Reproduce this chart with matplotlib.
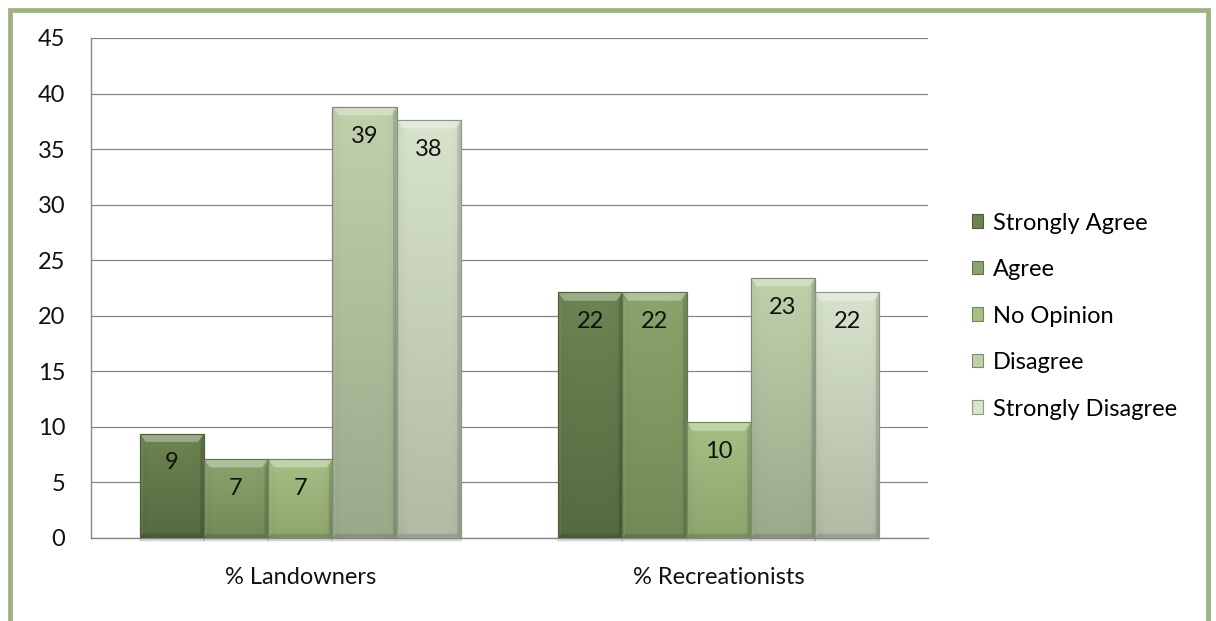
import matplotlib
matplotlib.use("Agg")
import matplotlib.pyplot as plt
import numpy as np
from matplotlib.patches import Patch, Polygon, Rectangle
from matplotlib.colors import to_rgb

plt.rcParams['font.family'] = ['Lato', 'DejaVu Sans']

groups = ["% Landowners", "% Recreationists"]
responses = ["Strongly Agree", "Agree", "No Opinion", "Disagree", "Strongly Disagree"]
landowners = [9.4, 7.1, 7.1, 38.8, 37.6]
recreationists = [22.1, 22.1, 10.4, 23.4, 22.1]
yticks = [0, 5, 10, 15, 20, 25, 30, 35, 40, 45]

# top / bottom shade of each response colour
top_cols = ["#6d8452", "#8ba46d", "#a5bf84", "#c0d0ab", "#d8e3cc"]
bot_cols = ["#566a40", "#728b56", "#8ea56e", "#9ba98b", "#b0baa5"]
edge_cols = ["#4b5c38", "#5f744a", "#718858", "#7d8a6e", "#8e9886"]

fig = plt.figure(figsize=(12.16, 6.21), dpi=100)
ax = fig.add_axes([0.0748, 0.1337, 0.6883, 0.8052])

# outer frame
fig.patches.append(Rectangle((10 / 1216, -0.05), 1198 / 1216, 1.05 - 10 / 621,
                             transform=fig.transFigure, fill=False,
                             edgecolor="#9db183", linewidth=3.4, zorder=0))

n = len(responses)
x = np.arange(len(groups))
width = 0.1535
values = np.array([landowners, recreationists])


def gradient(c_top, c_bot, rows=64, cols=32):
    t = np.linspace(0, 1, rows)[:, None, None]
    top = np.array(to_rgb(c_top))
    bot = np.array(to_rgb(c_bot))
    img = bot + (top - bot) * t
    img = np.repeat(img, cols, axis=1)
    # slight darkening toward the side edges
    s = np.linspace(-1, 1, cols)
    shade = 1 - 0.07 * s ** 8
    return np.clip(img * shade[None, :, None], 0, 1)


bx, by = 0.014, 0.75
for i in range(n):
    offs = x + (i - (n - 1) / 2) * width
    bars = ax.bar(offs, values[:, i], width, color=top_cols[i],
                  edgecolor=edge_cols[i], linewidth=0.8, zorder=3)
    for rect in bars:
        x0, w, h = rect.get_x(), rect.get_width(), rect.get_height()
        x1 = x0 + w
        im = ax.imshow(gradient(top_cols[i], bot_cols[i]), origin="lower",
                       extent=[x0, x1, 0, h], aspect="auto", zorder=3.1,
                       interpolation="bilinear")
        im.set_clip_path(rect)
        # bevel facets
        ax.add_patch(Polygon([[x0, h], [x1, h], [x1 - bx, h - by], [x0 + bx, h - by]],
                             closed=True, facecolor="white", alpha=0.33,
                             linewidth=0, zorder=3.2))
        ax.add_patch(Polygon([[x0, 0], [x0 + bx * 0.6, by * 0.5],
                              [x0 + bx * 0.6, h - by], [x0, h]],
                             closed=True, facecolor="white", alpha=0.08,
                             linewidth=0, zorder=3.2))
        ax.add_patch(Polygon([[x1, 0], [x1 - bx * 0.6, by * 0.5],
                              [x1 - bx * 0.6, h - by], [x1, h]],
                             closed=True, facecolor="black", alpha=0.12,
                             linewidth=0, zorder=3.2))
        ax.add_patch(Polygon([[x0, 0], [x1, 0], [x1 - bx * 0.6, by * 0.5],
                              [x0 + bx * 0.6, by * 0.5]],
                             closed=True, facecolor="black", alpha=0.12,
                             linewidth=0, zorder=3.2))
        ax.add_patch(Rectangle((x0, 0), w, h, fill=False, edgecolor=edge_cols[i],
                               linewidth=0.8, zorder=3.3))
        # soft shadow under the bar
        for k, a in enumerate([0.18, 0.10, 0.05]):
            ax.add_patch(Rectangle((x0 - 0.002, -0.12 * (k + 1)), w + 0.004,
                                   0.12 * (k + 1), facecolor="black", alpha=a,
                                   linewidth=0, zorder=2, clip_on=False))
        ax.text(x0 + w / 2, h - 2.65, f"{h:.0f}", ha="center", va="center",
                fontsize=17, color="#111111", zorder=4)

ax.set_xlim(-0.5, 1.5)
ax.set_ylim(0, 45)
ax.set_yticks(yticks)
ax.set_xticks(x)
ax.set_xticklabels(groups)
ax.tick_params(axis="y", length=0, pad=18.5, labelsize=17, colors="#111111")
ax.tick_params(axis="x", length=0, pad=21, labelsize=17, colors="#111111")
ax.yaxis.grid(True, color="#868686", linewidth=0.9, zorder=0)
ax.set_axisbelow(True)
for side in ["top", "right"]:
    ax.spines[side].set_visible(False)
for side in ["left", "bottom"]:
    ax.spines[side].set_color("#868686")
    ax.spines[side].set_linewidth(1.0)
ax.spines["bottom"].set_zorder(2.5)

handles = [Patch(facecolor=top_cols[i], edgecolor=edge_cols[i], linewidth=0.8)
           for i in range(n)]
fig.legend(handles, responses, loc="center left", bbox_to_anchor=(0.799, 0.491),
           frameon=False, fontsize=17, handlelength=0.5, handleheight=0.5,
           handletextpad=0.4, labelspacing=1.08, borderpad=0, borderaxespad=0)

fig.savefig("out.png", dpi=100, facecolor="white")
